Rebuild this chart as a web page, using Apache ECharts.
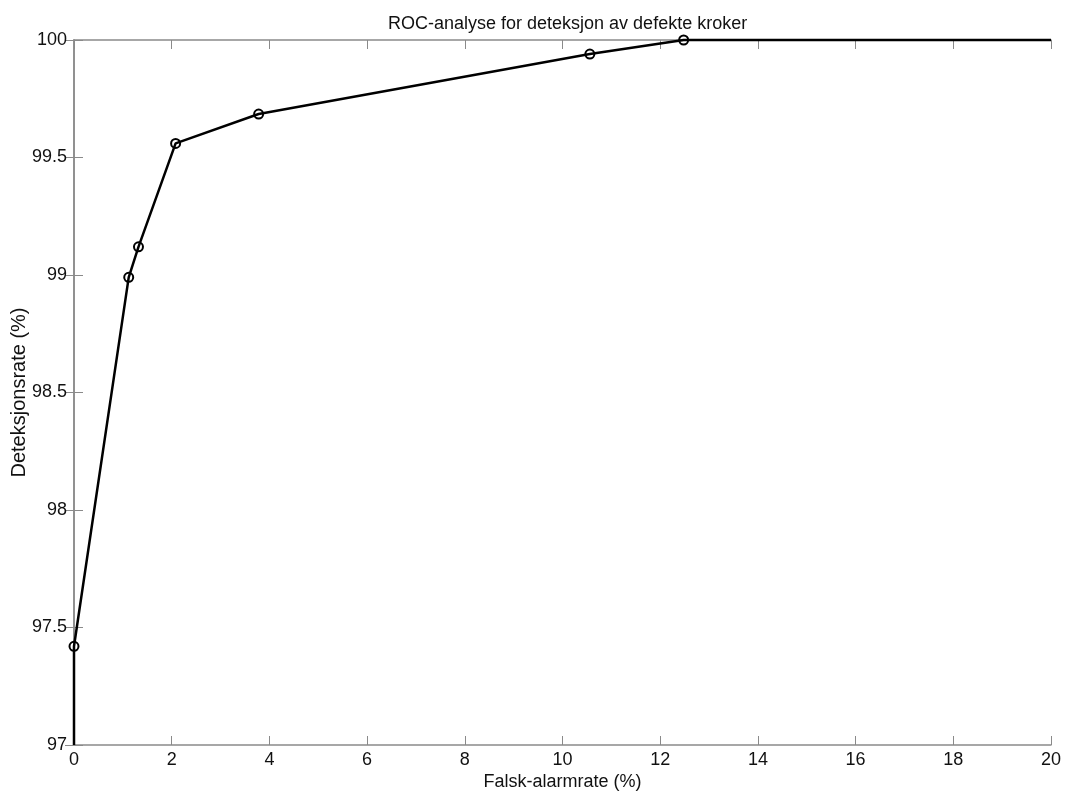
<!DOCTYPE html>
<html><head><meta charset="utf-8">
<script src="https://cdn.jsdelivr.net/npm/echarts@6/dist/echarts.min.js"></script>
<style>html,body{margin:0;padding:0;background:#fff}#c{width:1069px;height:794px}</style>
</head><body><div id="c"></div>
<script>
var falseAlarm = [0, 0, 1.12, 1.32, 2.08, 3.78, 10.56, 12.48, 20];
var detection = [97, 97.42, 98.99, 99.12, 99.56, 99.685, 99.94, 100, 100];
var marked = [false, true, true, true, true, true, true, true, false];
var xTicks = [0,2,4,6,8,10,12,14,16,18,20];
var yTicks = [97,97.5,98,98.5,99,99.5,100];

var data = falseAlarm.map(function(x,i){
  return {value:[x, detection[i]], symbol: marked[i] ? 'circle' : 'none'};
});
var font = 'Liberation Sans, Arial, sans-serif';
var axisGrey = '#8a8a8a';
var chart = echarts.init(document.getElementById('c'));
chart.setOption({
  backgroundColor:'#fff',
  animation:false,
  title:{text:'ROC-analyse for deteksjon av defekte kroker', left:383, top:10,
    textStyle:{fontFamily:font,fontSize:18,fontWeight:'normal',color:'#111'}},
  grid:{left:74,right:18,top:40,bottom:49,containLabel:false,outerBoundsMode:'none'},
  xAxis:[{type:'value',min:0,max:20,interval:2,position:'bottom',
    name:'Falsk-alarmrate (%)',nameLocation:'middle',nameGap:28,nameMoveOverlap:false,
    nameTextStyle:{fontFamily:font,fontSize:18,color:'#111'},
    axisLine:{show:true,lineStyle:{color:axisGrey,width:1.5}},
    axisTick:{show:true,inside:true,length:9,lineStyle:{color:axisGrey}},
    axisLabel:{fontFamily:font,fontSize:18,color:'#111',margin:6,
      formatter:function(v){return xTicks.indexOf(v)>=0?String(v):'';}},
    splitLine:{show:false}},
   {type:'value',min:0,max:20,interval:2,position:'top',
    axisLine:{show:true,lineStyle:{color:axisGrey,width:1.5}},
    axisTick:{show:true,inside:true,length:9,lineStyle:{color:axisGrey}},
    axisLabel:{show:false},splitLine:{show:false}}],
  yAxis:[{type:'value',min:97,max:100,interval:0.5,position:'left',
    name:'Deteksjonsrate (%)',nameLocation:'middle',nameGap:45,nameMoveOverlap:false,
    nameTextStyle:{fontFamily:font,fontSize:20,color:'#111'},
    axisLine:{show:true,lineStyle:{color:axisGrey,width:1.5}},
    axisTick:{show:true,inside:true,length:9,lineStyle:{color:axisGrey}},
    axisLabel:{fontFamily:font,fontSize:18,color:'#111',margin:7,
      formatter:function(v){return yTicks.indexOf(v)>=0?String(v):'';}},
    splitLine:{show:false}},
   {type:'value',min:97,max:100,interval:0.5,position:'right',
    axisLine:{show:true,lineStyle:{color:axisGrey,width:1.5}},
    axisTick:{show:true,inside:true,length:9,lineStyle:{color:axisGrey}},
    axisLabel:{show:false},splitLine:{show:false}}],
  series:[{type:'line',data:data,xAxisIndex:0,yAxisIndex:0,
    symbolSize:9,
    lineStyle:{color:'#000',width:2.5},
    itemStyle:{color:'rgba(0,0,0,0)',borderColor:'#000',borderWidth:2},
    clip:false,z:5}]
});
</script></body></html>
